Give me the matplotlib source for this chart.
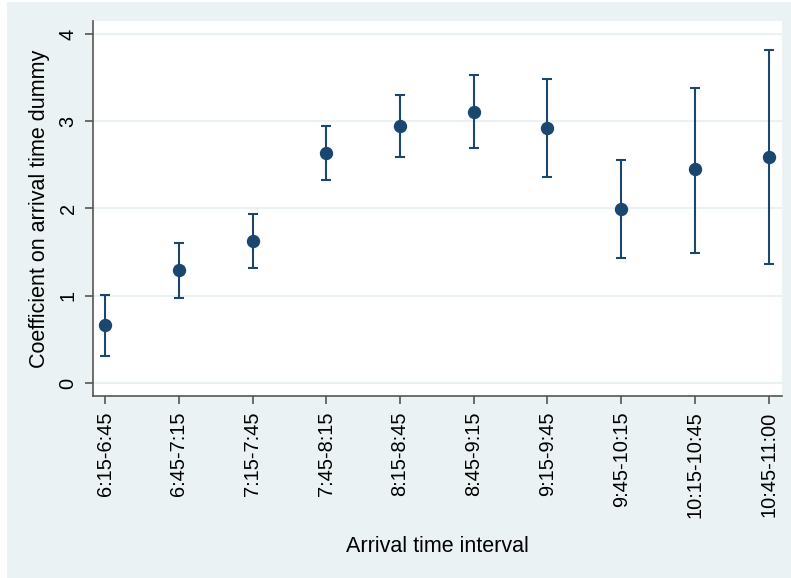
import matplotlib
matplotlib.use("Agg")
import matplotlib.pyplot as plt
from matplotlib.patches import Rectangle

plt.rcParams['font.family'] = ['Liberation Sans', 'DejaVu Sans']

# estimates
intervals = ["6:15-6:45", "6:45-7:15", "7:15-7:45", "7:45-8:15", "8:15-8:45",
             "8:45-9:15", "9:15-9:45", "9:45-10:15", "10:15-10:45", "10:45-11:00"]
coef = [0.665, 1.295, 1.63, 2.64, 2.95, 3.11, 2.92, 1.99, 2.45, 2.59]
ci_low = [0.31, 0.97, 1.32, 2.33, 2.59, 2.69, 2.36, 1.43, 1.49, 1.36]
ci_high = [1.01, 1.60, 1.94, 2.95, 3.30, 3.53, 3.48, 2.56, 3.38, 3.82]
yticks = [0, 1, 2, 3, 4]

navy = "#1a476f"
bg = "#eaf2f3"
W, H = 791, 578

fig = plt.figure(figsize=(W / 100, H / 100), dpi=100, facecolor="white")
fig.patches.append(Rectangle((7 / W, 0), 1 - 7 / W, 1 - 2 / H,
                             transform=fig.transFigure, facecolor=bg,
                             edgecolor="none", zorder=-10))

ax = fig.add_axes([93 / W, 1 - 396 / H, (782 - 93) / W, (396 - 21) / H])
ax.set_facecolor("white")

x = list(range(1, len(intervals) + 1))
yerr = [[c - lo for c, lo in zip(coef, ci_low)],
        [hi - c for c, hi in zip(coef, ci_high)]]
ax.errorbar(x, coef, yerr=yerr, fmt="o", color=navy, ms=8.6,
            elinewidth=1.5, capsize=3.3, capthick=1.5, zorder=3)

ax.set_xlim(0.837, 10.18)
ax.set_ylim(-0.149, 4.149)
ax.set_xticks(x)
ax.set_xticklabels(intervals, rotation=90, fontsize=14.4)
ax.set_yticks(yticks)
ax.set_yticklabels([str(t) for t in yticks], rotation=90, va="center", fontsize=14.4)
ax.yaxis.grid(True, color=bg, linewidth=1.5)
ax.set_axisbelow(True)

for s in ["top", "right"]:
    ax.spines[s].set_visible(False)
for s in ["left", "bottom"]:
    ax.spines[s].set_color("#555555")
    ax.spines[s].set_linewidth(1.2)
ax.tick_params(axis="both", length=6, width=1.2, color="#555555", pad=5)

ax.set_xlabel("Arrival time interval", fontsize=15.5, labelpad=13)
ax.set_ylabel("Coefficient on arrival time dummy", fontsize=15.5, labelpad=6)

fig.savefig("out.png", dpi=100, facecolor=fig.get_facecolor())
